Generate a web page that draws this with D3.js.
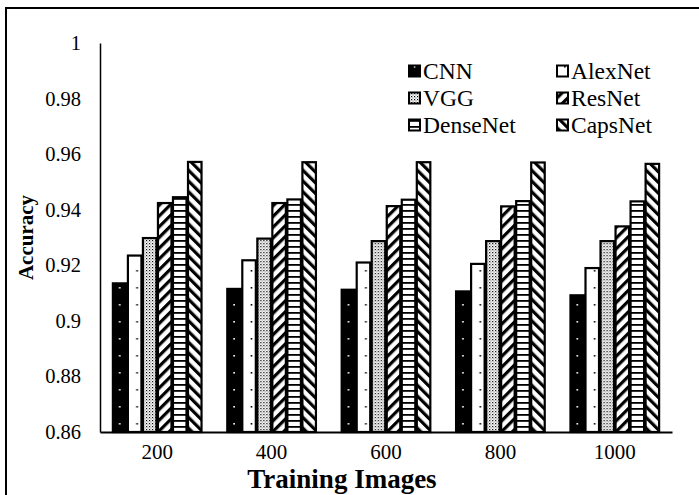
<!DOCTYPE html>
<html>
<head>
<meta charset="utf-8">
<script src="https://cdn.jsdelivr.net/npm/d3@7"></script>
<style>
  html, body { margin: 0; padding: 0; background: #fff; }
  svg { display: block; }
  text { font-family: "Liberation Serif", "Times New Roman", serif; fill: #000; }
</style>
</head>
<body>
<svg id="chart" width="699" height="495"></svg>
<script>
const categories = ["200", "400", "600", "800", "1000"];
const seriesNames = ["CNN", "AlexNet", "VGG", "ResNet", "DenseNet", "CapsNet"];
const cnn      = [0.9135, 0.9115, 0.9112, 0.9106, 0.9092];
const alexnet  = [0.9235, 0.9218, 0.9210, 0.9205, 0.9190];
const vgg      = [0.9298, 0.9296, 0.9287, 0.9287, 0.9287];
const resnet   = [0.9424, 0.9424, 0.9413, 0.9412, 0.9340];
const densenet = [0.9445, 0.9437, 0.9436, 0.9431, 0.9430];
const capsnet  = [0.9572, 0.9571, 0.9571, 0.9570, 0.9565];
const yTicks = [0.86, 0.88, 0.9, 0.92, 0.94, 0.96, 0.98, 1];
const yTickLabels = ["0.86", "0.88", "0.9", "0.92", "0.94", "0.96", "0.98", "1"];
const xTitle = "Training Images";
const yTitle = "Accuracy";

const seriesValues = [cnn, alexnet, vgg, resnet, densenet, capsnet];
const data = [];
categories.forEach((c, ci) => {
  seriesNames.forEach((s, si) => {
    data.push({ cat: c, ci, series: s, si, value: seriesValues[si][ci] });
  });
});

const svg = d3.select("#chart");
const pLeft = 100, pRight = 672, pTop = 43, pBottom = 432;
const FONT = '"Liberation Serif", "Times New Roman", serif';

const x0 = d3.scaleBand().domain(categories).range([pLeft, pRight]).paddingInner(0.212).paddingOuter(0.106);
const x1 = d3.scaleBand().domain(seriesNames).range([0, x0.bandwidth()]).paddingInner(0.1).paddingOuter(0.05);
const y = d3.scaleLinear().domain([0.86, 1]).range([pBottom, pTop]);

// frame
svg.append("rect").attr("x", 6).attr("y", 8).attr("width", 720).attr("height", 520)
  .attr("fill", "none").attr("stroke", "#000").attr("stroke-width", 2);

const defs = svg.append("defs");

function makePattern(id, si, bx, bw) {
  if (si === 0) {
    const p = defs.append("pattern").attr("id", id).attr("patternUnits", "userSpaceOnUse")
      .attr("x", bx).attr("y", pBottom).attr("width", bw).attr("height", 17);
    p.append("rect").attr("width", bw).attr("height", 17).attr("fill", "#000");
    p.append("rect").attr("x", bw / 2 - 0.7).attr("y", 8).attr("width", 1.6).attr("height", 1.6).attr("fill", "#fff");
  } else if (si === 1) {
    const p = defs.append("pattern").attr("id", id).attr("patternUnits", "userSpaceOnUse")
      .attr("x", bx).attr("y", pBottom).attr("width", bw).attr("height", 17);
    p.append("rect").attr("width", bw).attr("height", 17).attr("fill", "#fff");
    p.append("rect").attr("x", bw * 0.62).attr("y", 8).attr("width", 1.6).attr("height", 1.6).attr("fill", "#000");
  } else if (si === 2) {
    const p = defs.append("pattern").attr("id", id).attr("patternUnits", "userSpaceOnUse")
      .attr("x", bx).attr("y", 0).attr("width", 3).attr("height", 3);
    p.append("rect").attr("width", 3).attr("height", 3).attr("fill", "#fff");
    p.append("rect").attr("x", 0).attr("y", 0).attr("width", 1.2).attr("height", 1.2).attr("fill", "#000");
    p.append("rect").attr("x", 1.5).attr("y", 1.5).attr("width", 1).attr("height", 1).attr("fill", "#444");
  } else if (si === 3 || si === 5) {
    const p = defs.append("pattern").attr("id", id).attr("patternUnits", "userSpaceOnUse")
      .attr("width", 7.6).attr("height", 10)
      .attr("patternTransform", `translate(${bx},0) rotate(${si === 3 ? 45 : -45})`);
    p.append("rect").attr("width", 7.6).attr("height", 10).attr("fill", "#fff");
    p.append("rect").attr("x", 0).attr("width", 3.2).attr("height", 10).attr("fill", "#000");
  } else if (si === 4) {
    const p = defs.append("pattern").attr("id", id).attr("patternUnits", "userSpaceOnUse")
      .attr("x", bx).attr("y", pBottom).attr("width", bw).attr("height", 6);
    p.append("rect").attr("width", bw).attr("height", 6).attr("fill", "#fff");
    p.append("rect").attr("y", 0).attr("width", bw).attr("height", 1.8).attr("fill", "#000");
  }
}

data.forEach(d => {
  d.x = x0(d.cat) + x1(d.series);
  d.w = x1.bandwidth();
  d.pid = `p${d.si}_${d.ci}`;
  makePattern(d.pid, d.si, d.x, d.w);
});

svg.append("g").selectAll("rect").data(data).join("rect")
  .attr("x", d => d.x)
  .attr("y", d => y(d.value))
  .attr("width", d => d.w)
  .attr("height", d => y(0.86) - y(d.value))
  .attr("fill", d => `url(#${d.pid})`)
  .attr("stroke", "#000").attr("stroke-width", 2.2);

// y axis
const yAxis = d3.axisLeft(y).tickValues(yTicks).tickSize(0).tickPadding(19)
  .tickFormat((d, i) => yTickLabels[i]);
const gy = svg.append("g").attr("transform", `translate(${pLeft},0)`).call(yAxis);
gy.attr("font-family", FONT);
gy.select(".domain").attr("stroke", "#000").attr("stroke-width", 1.5);
gy.selectAll("text").style("font-family", FONT).style("font-size", "20.5px").attr("fill", "#000");

// x axis
const xAxis = d3.axisBottom(x0).tickSize(0).tickPadding(12);
const gx = svg.append("g").attr("transform", `translate(0,${pBottom})`).call(xAxis);
gx.attr("font-family", FONT);
gx.select(".domain").attr("stroke", "#000").attr("stroke-width", 2);
gx.selectAll("text").style("font-family", FONT).style("font-size", "21px").attr("fill", "#000");

// titles
svg.append("text").attr("x", 342).attr("y", 488).attr("text-anchor", "middle")
  .style("font-size", "27px").style("font-weight", "bold").text(xTitle);
svg.append("text").attr("transform", `translate(33,${(pTop + pBottom) / 2}) rotate(-90)`)
  .attr("text-anchor", "middle").style("font-size", "21px").style("font-weight", "bold").text(yTitle);

// legend
const legendCols = [408, 556];
const legendRows = [71, 98, 125];
const lg = svg.append("g");
seriesNames.forEach((s, si) => {
  const lx = legendCols[si % 2], ly = legendRows[Math.floor(si / 2)];
  const lid = `lg${si}`;
  makePattern(lid, si, lx, 13);
  lg.append("rect").attr("x", lx + 1).attr("y", ly - 5.5).attr("width", 11).attr("height", 11)
    .attr("fill", `url(#${lid})`).attr("stroke", "#000").attr("stroke-width", 2);
  lg.append("text").attr("x", lx + 15).attr("y", ly).attr("dy", "0.35em")
    .style("font-size", "23.5px").text(s);
});
</script>
</body>
</html>
